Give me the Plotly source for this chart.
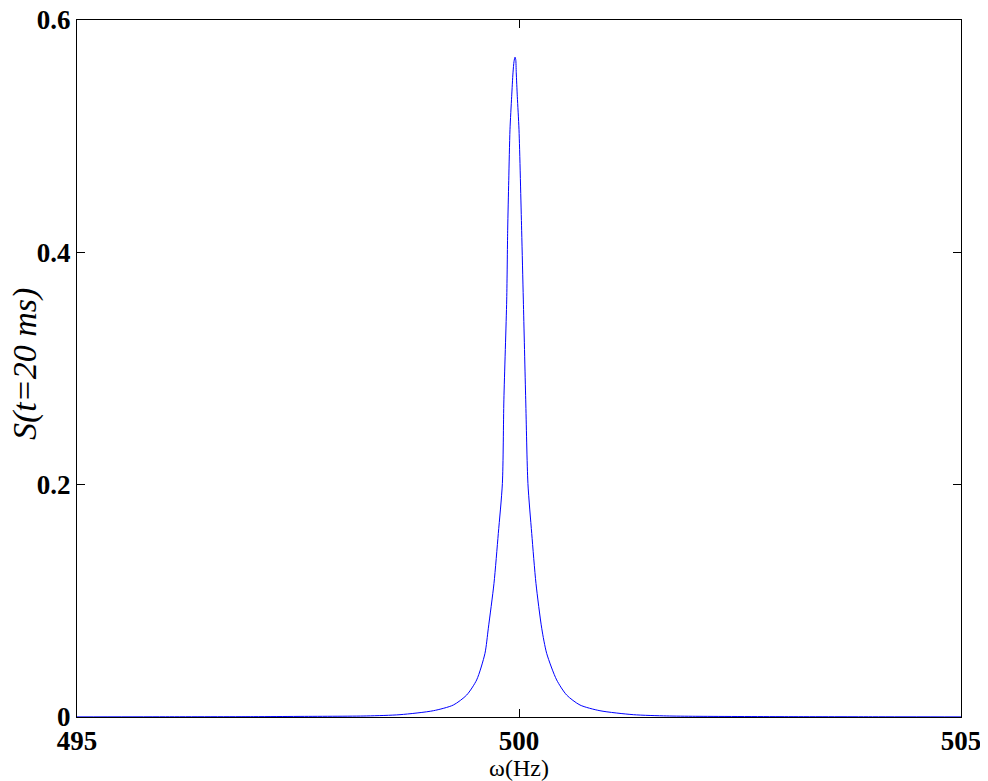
import plotly.graph_objects as go

# values
omega = [495.0, 496.0, 497.0, 497.5, 498.277, 498.654, 499.031, 499.257, 499.408,
         499.521, 499.615, 499.653, 499.717, 499.766, 499.812, 499.829, 499.861,
         499.872, 499.884, 499.898, 499.917, 499.932, 499.944, 499.955, 499.963,
         499.969, 499.981, 500.000, 500.030, 500.049, 500.076, 500.101, 500.144,
         500.192, 500.257, 500.313, 500.426, 500.539, 500.690, 500.916, 501.293,
         501.671, 502.0, 503.0, 504.0, 505.0]
S = [0.0001, 0.0002, 0.0003, 0.0005, 0.0009, 0.0020, 0.0054, 0.0103, 0.0189,
     0.0319, 0.0548, 0.0764, 0.115, 0.158, 0.201, 0.273, 0.359,
     0.419, 0.462, 0.5055, 0.534, 0.5545, 0.5645, 0.568, 0.566,
     0.5545, 0.534, 0.5055, 0.419, 0.359, 0.273, 0.201, 0.158,
     0.115, 0.0764, 0.0548, 0.0319, 0.0189, 0.0103, 0.0054, 0.0020,
     0.0009, 0.0006, 0.0003, 0.0002, 0.0001]

x_ticks = [495, 500, 505]
y_ticks = [0, 0.2, 0.4, 0.6]
y_ticklabels = ['0', '0.2', '0.4', '0.6']

fig = go.Figure()
fig.add_trace(go.Scatter(x=omega, y=S, mode='lines',
                         line=dict(color='#0000ff', width=1, shape='spline', smoothing=0.7),
                         showlegend=False, hoverinfo='x+y'))

axis_style = dict(showline=True, linecolor='black', linewidth=1, mirror='ticks',
                  ticks='inside', ticklen=8, tickcolor='black', showgrid=False,
                  zeroline=False, automargin=False, ticklabeloverflow='allow',
                  tickfont=dict(family='Liberation Serif', size=27, color='black'))

# page body has an 8px margin, so the figure is a bit smaller than the window
fig.update_layout(
    width=980, height=773,
    margin=dict(l=69, r=27, t=12, b=64),
    paper_bgcolor='white', plot_bgcolor='white',
    font=dict(family='Liberation Serif', color='black'),
    xaxis=dict(range=[495, 505], tickvals=x_ticks, ticktext=[f'<b>{v}</b>' for v in x_ticks],
               title=dict(text='ω(Hz)', font=dict(size=24), standoff=0), **axis_style),
    yaxis=dict(range=[0, 0.6], tickvals=y_ticks, ticktext=[f'<b>{t}</b>' for t in y_ticklabels],
               **axis_style),
)

# y label sits further left than plotly's axis title would put it
fig.add_annotation(text='<i>S(t=20 ms)</i>', xref='paper', yref='paper', x=-0.058, y=0.506,
                   xanchor='center', yanchor='middle', textangle=-90, showarrow=False,
                   font=dict(family='Liberation Serif', size=34, color='black'))

fig.write_html("out.html")
